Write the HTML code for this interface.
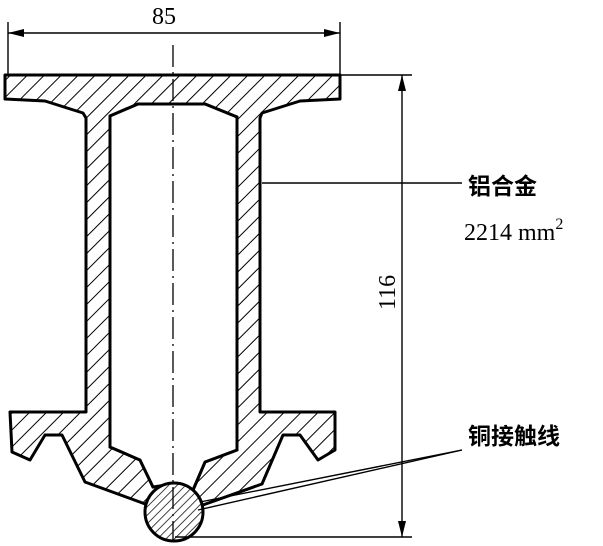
<!DOCTYPE html>
<html><head><style>body{margin:0;background:#fff}svg{display:block}</style></head><body>
<svg width="603" height="546" viewBox="0 0 603 546" xmlns="http://www.w3.org/2000/svg">
<defs>
<pattern id="h" patternUnits="userSpaceOnUse" width="12" height="12" patternTransform="rotate(45)">
<line x1="0" y1="0" x2="0" y2="12" stroke="#000" stroke-width="2"/></pattern>
<pattern id="h2" patternUnits="userSpaceOnUse" width="6" height="6" patternTransform="rotate(45)">
<line x1="0" y1="0" x2="0" y2="6" stroke="#000" stroke-width="1.5"/></pattern>
</defs>
<path fill="url(#h)" fill-rule="evenodd" stroke="#000" stroke-width="3" stroke-linejoin="round"
d="M5,75 L340,75 L340,99 L300,101 L262,113 L260,118 L260,412 L335,412 L335,450 L318,460 L300,435 L283,435 L262,484 L200,506 L148,505 L85,482 L62,435 L45,435 L30,460 L12,452 L10,412 L86,412 L86,118 L83,113 L45,101 L5,99 Z
M110,116 L138,104 L205,104 L237,117 L237,450 L205,462 L193,490 L173,484 L153,487 L140,460 L110,447 Z"/>
<path d="M110,116 L138,104 L205,104 L237,117 L237,450 L205,462 L193,490 L173,484 L153,487 L140,460 L110,447 Z" fill="#fff" stroke="#000" stroke-width="3"/>
<circle cx="174" cy="512" r="29" fill="#fff" stroke="#000" stroke-width="3"/>
<circle cx="174" cy="512" r="28" fill="url(#h2)"/>
<line x1="173" y1="45" x2="173" y2="542" stroke="#000" stroke-width="1.3" stroke-dasharray="22,5,2,5"/>
<g stroke="#000" stroke-width="1.4" fill="none">
<line x1="8" y1="22" x2="8" y2="75"/><line x1="340" y1="22" x2="340" y2="75"/>
<line x1="8" y1="33" x2="340" y2="33"/>
<line x1="340" y1="75" x2="412" y2="75"/><line x1="175" y1="537" x2="412" y2="537"/>
<line x1="402" y1="75" x2="402" y2="537"/>
<line x1="262" y1="183" x2="462" y2="183"/>
<line x1="462" y1="450" x2="198" y2="510"/>
<line x1="462" y1="450" x2="200" y2="502"/>
</g>
<g fill="#000">
<polygon points="8,33 24,29 24,37"/><polygon points="340,33 324,29 324,37"/>
<polygon points="402,75 398,91 406,91"/><polygon points="402,537 398,521 406,521"/>
</g>
<g font-family="Liberation Serif, serif" font-size="24" fill="#000">
<text x="152" y="24">85</text>
<text transform="translate(395,310) rotate(-90)">116</text>
<text x="464" y="240">2214 mm<tspan font-size="16" dy="-11">2</tspan></text>
</g>
<g font-family="Liberation Sans, 'Noto Sans CJK SC', sans-serif" font-size="23" font-weight="bold" fill="#000">
<text x="468" y="194">铝合金</text>
<text x="468" y="444">铜接触线</text>
</g>
</svg>
</body></html>
